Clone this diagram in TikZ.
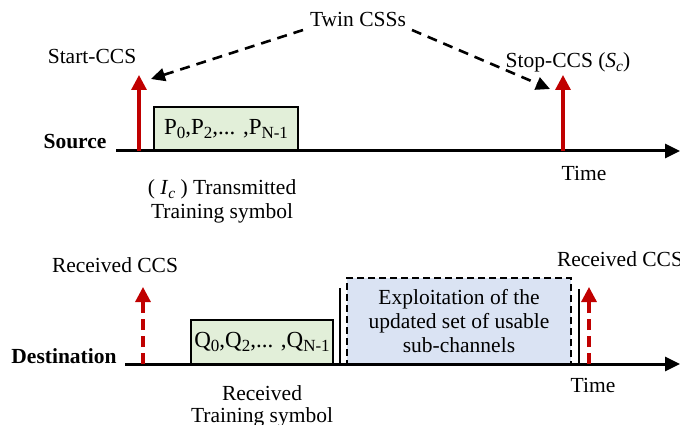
\documentclass[tikz,border=0pt]{standalone}
\usepackage{fontspec}
\setmainfont{Liberation Serif}
\usetikzlibrary{arrows.meta}
\definecolor{cred}{HTML}{C00000}
\definecolor{cgreen}{HTML}{E2EFD9}
\definecolor{cblue}{HTML}{DAE3F3}
\newcommand\lo[1]{\raisebox{-0.2em}{\fontsize{15.5}{15.5}\selectfont #1}}
\newcommand\blo[1]{\raisebox{-0.2em}{\fontsize{17}{17}\selectfont #1}}
\begin{document}
\begin{tikzpicture}[x=1pt,y=-1pt,
  txt/.style={inner sep=0pt, font=\fontsize{21.5}{24}\selectfont, align=center},
  bold/.style={txt, font=\fontsize{21.5}{24}\selectfont\bfseries},
  axis/.style={line width=3pt, -{Triangle[length=15pt,width=14pt]}},
  redarrow/.style={draw=cred, line width=3.2pt, -{Triangle[length=15pt,width=15pt]}, color=cred},
  reddash/.style={redarrow, dash pattern=on 11pt off 6pt},
  twin/.style={line width=2.6pt, dash pattern=on 10pt off 7pt, -{Triangle[length=14pt,width=13pt]}},
  symbox/.style={draw, line width=2.6pt, fill=cgreen, inner sep=0pt, font=\fontsize{23}{25}\selectfont},
  exbox/.style={draw, line width=2.6pt, dash pattern=on 7pt off 4pt, fill=cblue, inner sep=0pt, align=center, font=\fontsize{21.5}{24}\selectfont},
  vline/.style={line width=2.6pt}
]
\useasboundingbox (0,0) rectangle (680,425);

% ---------------- Source ----------------
\coordinate (sA) at (116,151);
\coordinate (sB) at (680,151);
\node[bold] (src) at (75,142) {Source};
\node[symbox, minimum width=144pt, minimum height=44pt] (pbox) at (226,129) {P\blo{0},P\blo{2},... ,P\blo{N-1}};
\draw[axis] (sA) -- (sB);

\coordinate (st0) at (139,151);
\coordinate (st1) at (139,75);
\draw[redarrow] (st0) -- (st1);
\node[txt] (start) at (92,56) {Start-CCS};

\coordinate (sp0) at (563,151);
\coordinate (sp1) at (563,75);
\draw[redarrow] (sp0) -- (sp1);
\node[txt] (stop) at (568,62) {Stop-CCS (\textit{S}\lo{\textit{c}})};
\node[txt] (time1) at (584,173) {Time};

\node[txt] (twin) at (358,19) {Twin CSSs};
\coordinate (tw1) at (303,30);
\coordinate (tw1e) at (151,79);
\coordinate (tw2) at (412,30);
\coordinate (tw2e) at (550,89);
\draw[twin] (tw1) -- (tw1e);
\draw[twin] (tw2) -- (tw2e);

\node[txt] (trans) at (222,189) {( \textit{I}\lo{\textit{c}} ) Transmitted};
\node[txt] (trans2) at (222,213) {Training symbol};

% ---------------- Destination ----------------
\coordinate (dA) at (125,364);
\coordinate (dB) at (680,364);
\node[bold] (dst) at (64,356) {Destination};
\node[symbox, minimum width=142pt, minimum height=44pt] (qbox) at (262,342) {Q\blo{0},Q\blo{2},... ,Q\blo{N-1}};
\node[exbox, minimum width=224pt, minimum height=86pt] (exbox) at (459,321) {Exploitation of the\\updated set of usable\\sub-channels};
\draw[axis] (dA) -- (dB);

\coordinate (rc0) at (143,364);
\coordinate (rc1) at (143,287);
\draw[reddash] (rc0) -- (rc1);
\node[txt] (rcv1) at (115,265) {Received CCS};

\coordinate (rd0) at (589,364);
\coordinate (rd1) at (589,287);
\draw[reddash] (rd0) -- (rd1);
\node[txt] (rcv2) at (620,259) {Received CCS};

\coordinate (vl0) at (340,364);
\coordinate (vl1) at (340,288);
\draw[vline] (vl0) -- (vl1);
\coordinate (vr0) at (579,364);
\coordinate (vr1) at (579,289);
\draw[vline] (vr0) -- (vr1);

\node[txt] (time2) at (593,385) {Time};
\node[txt] (rts) at (262,393) {Received};
\node[txt] (rts2) at (262,417) {Training symbol};
\end{tikzpicture}
\end{document}
